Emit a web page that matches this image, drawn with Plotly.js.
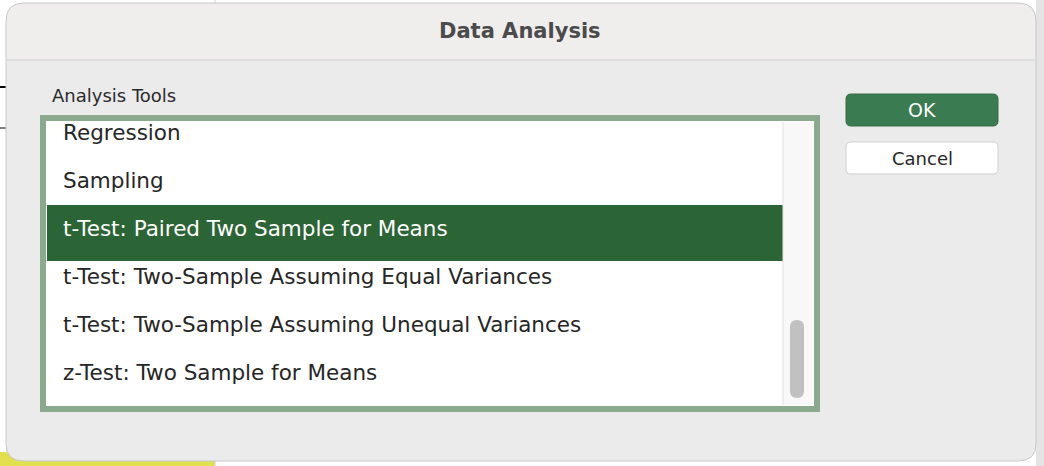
<!DOCTYPE html>
<html>
<head>
<meta charset="utf-8">
<script src="https://cdn.plot.ly/plotly-3.0.1.min.js"></script>
<style>body{margin:0;background:#fff}#myDiv{width:1044px;height:466px}</style>
</head>
<body>
<div id="myDiv"></div>
<script>
var items = ['Regression', 'Sampling', 't-Test: Paired Two Sample for Means',
  't-Test: Two-Sample Assuming Equal Variances', 't-Test: Two-Sample Assuming Unequal Variances',
  'z-Test: Two Sample for Means'];
var selectedItem = 2;
var buttons = ['OK', 'Cancel'];

var font = 'DejaVu Sans, Arial, sans-serif';
var rowTop = 111, rowH = 48;

var itemY = items.map(function (t, i) { return rowTop + rowH * i + rowH / 2; });
var itemColors = items.map(function (t, i) { return i === selectedItem ? '#ffffff' : '#262626'; });

var trace1 = {
  x: items.map(function () { return 63; }),
  y: itemY,
  text: items,
  mode: 'text',
  textposition: 'middle right',
  textfont: { family: font, size: 21.5, color: itemColors },
  hoverinfo: 'skip',
  type: 'scatter'
};

var shapes = [
  // spreadsheet behind
  { type: 'rect', x0: 0, x1: 1044, y0: 0, y1: 466, fillcolor: '#ffffff', line: { width: 0 }, layer: 'below' },
  { type: 'rect', x0: 1036, x1: 1044, y0: 0, y1: 466, fillcolor: '#e4e4e4', line: { width: 0 }, layer: 'below' },
  { type: 'rect', x0: 0, x1: 215, y0: 452, y1: 466, fillcolor: '#e3e04f', line: { width: 0 }, layer: 'below' },
  { type: 'line', x0: 0, x1: 8, y0: 87, y1: 87, line: { color: '#000', width: 2 }, layer: 'below' },
  { type: 'line', x0: 0, x1: 8, y0: 128, y1: 128, line: { color: '#000', width: 1 }, layer: 'below' },
  { type: 'line', x0: 215, x1: 215, y0: 0, y1: 466, line: { color: '#d0d0d0', width: 1 }, layer: 'below' },
  // dialog
  { type: 'path', path: 'M 24 3 L 1018 3 Q 1036 3 1036 21 L 1036 444 Q 1036 461 1018 461 L 24 461 Q 6 461 6 444 L 6 21 Q 6 3 24 3 Z',
    fillcolor: '#ebebeb', line: { color: '#c8c8c8', width: 1 }, layer: 'below' },
  { type: 'path', path: 'M 24 4 L 1018 4 Q 1035 4 1035 21 L 1035 60 L 7 60 L 7 21 Q 7 4 24 4 Z',
    fillcolor: '#efeeed', line: { width: 0 }, layer: 'below' },
  { type: 'line', x0: 7, x1: 1035, y0: 60, y1: 60, line: { color: '#cfcfcf', width: 1 }, layer: 'below' },
  // list box
  { type: 'rect', x0: 43, x1: 817, y0: 118, y1: 409, fillcolor: '#ffffff', line: { color: '#8aa98d', width: 6 }, layer: 'below' },
  { type: 'rect', x0: 47, x1: 783, y0: rowTop + rowH * selectedItem - 2, y1: rowTop + rowH * (selectedItem + 1) + 6,
    fillcolor: '#2c6535', line: { width: 0 }, layer: 'below' },
  { type: 'rect', x0: 783, x1: 813, y0: 122, y1: 405, fillcolor: '#f8f8f8', line: { width: 0 }, layer: 'below' },
  { type: 'line', x0: 783, x1: 783, y0: 122, y1: 405, line: { color: '#e2e2e2', width: 1 }, layer: 'below' },
  { type: 'path', path: 'M 790 327 Q 790 320 797 320 Q 804 320 804 327 L 804 391 Q 804 398 797 398 Q 790 398 790 391 Z',
    fillcolor: '#c1c1c1', line: { width: 0 }, layer: 'below' },
  // buttons
  { type: 'path', path: 'M 851 94 L 993 94 Q 998 94 998 99 L 998 121 Q 998 126 993 126 L 851 126 Q 846 126 846 121 L 846 99 Q 846 94 851 94 Z',
    fillcolor: '#3b7b51', line: { color: '#356f49', width: 1 }, layer: 'below' },
  { type: 'path', path: 'M 851 142 L 993 142 Q 998 142 998 147 L 998 169 Q 998 174 993 174 L 851 174 Q 846 174 846 169 L 846 147 Q 846 142 851 142 Z',
    fillcolor: '#ffffff', line: { color: '#cfcfcf', width: 1 }, layer: 'below' }
];

var annotations = [
  { x: 520, y: 31, text: '<b>Data Analysis</b>', showarrow: false, font: { family: font, size: 21, color: '#4b4b4b' } },
  { x: 50, y: 95, text: 'Analysis Tools', xanchor: 'left', showarrow: false, font: { family: font, size: 18, color: '#2b2b2b' } },
  { x: 922, y: 110, text: buttons[0], showarrow: false, font: { family: font, size: 19, color: '#ffffff' } },
  { x: 922, y: 158, text: buttons[1], showarrow: false, font: { family: font, size: 18, color: '#262626' } },
  { x: 45, y: 474, text: '1.833112033', xanchor: 'left', yanchor: 'middle', showarrow: false, font: { family: font, size: 22, color: '#222' } }
];

var layout = {
  width: 1044, height: 466,
  margin: { l: 0, r: 0, t: 0, b: 0 },
  paper_bgcolor: '#ffffff', plot_bgcolor: 'rgba(0,0,0,0)',
  showlegend: false,
  xaxis: { range: [0, 1044], visible: false, fixedrange: true },
  yaxis: { range: [466, 0], visible: false, fixedrange: true },
  shapes: shapes,
  annotations: annotations
};

Plotly.newPlot('myDiv', [trace1], layout, { staticPlot: true });
</script>
</body>
</html>
